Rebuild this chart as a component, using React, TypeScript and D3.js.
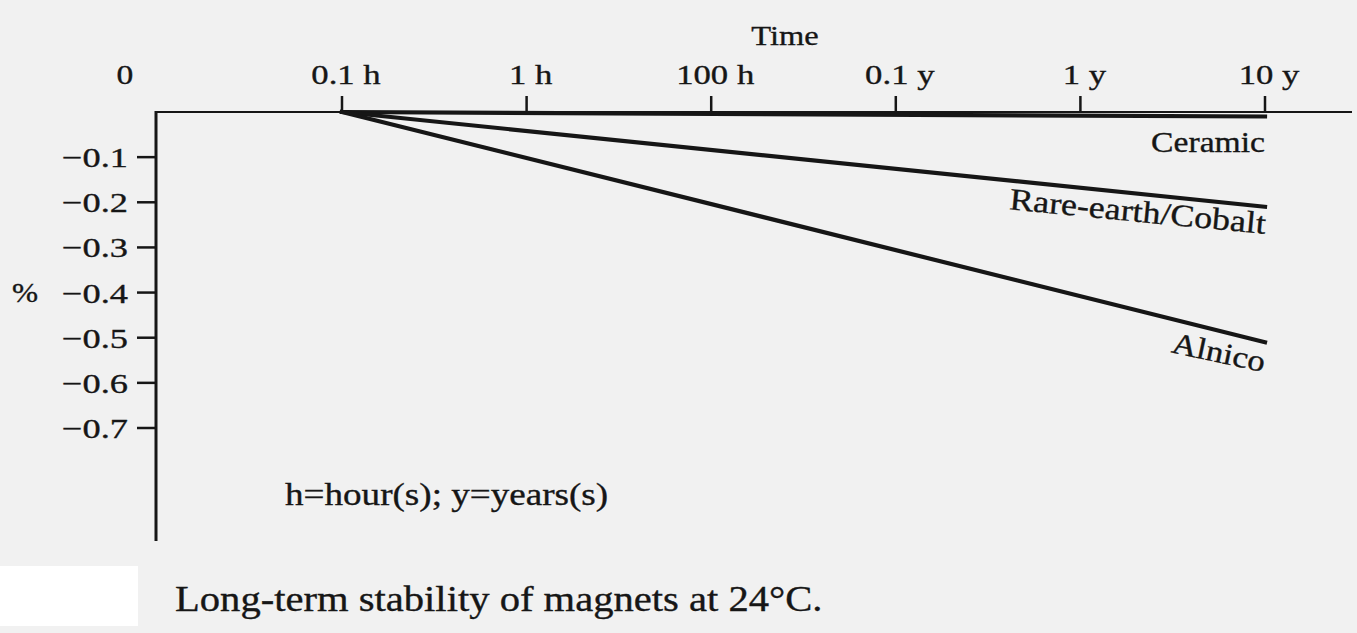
import { useEffect, useRef } from "react";
import * as d3 from "d3";

// Time axis labels (equally spaced, not a true log scale)
const timeTicks = ["0.1 h", "1 h", "100 h", "0.1 y", "1 y", "10 y"];
// Percentage ticks on the vertical axis
const percentTicks = [-0.1, -0.2, -0.3, -0.4, -0.5, -0.6, -0.7];

// Each magnet curve is a straight line from 0.1 h to 10 y
const lineTimes = ["0.1 h", "10 y"];
const ceramicLoss = [0, -0.01];
const rareEarthLoss = [0, -0.21];
const alnicoLoss = [0, -0.51];

const seriesNames = ["Ceramic", "Rare-earth/Cobalt", "Alnico"];
const seriesValues = [ceramicLoss, rareEarthLoss, alnicoLoss];

const W = 1357;
const H = 633;
const FONT = "'Liberation Serif', 'Times New Roman', serif";
const INK = "#161616";

export default function App() {
  const svgRef = useRef<SVGSVGElement>(null);

  useEffect(() => {
    document.body.style.margin = "0";
    if (!svgRef.current) return;
    const svg = d3.select(svgRef.current);
    svg.selectAll("*").remove();

    const x = d3.scalePoint<string>().domain(timeTicks).range([342, 1265]);
    const y = d3.scaleLinear().domain([0, -0.7]).range([112, 428]);
    const x0 = 156;
    const y0 = y(0);

    // paper background
    svg.append("rect").attr("width", W).attr("height", H).attr("fill", "#f1f1f1");
    svg.append("rect").attr("x", 0).attr("y", 566).attr("width", 138).attr("height", 60).attr("fill", "#ffffff");

    // the scan is stretched a little horizontally, so glyphs get a scale(sx,1)
    const label = (
      txt: string,
      tx: number,
      ty: number,
      size: number,
      anchor = "start",
      rot = 0,
      sx = 1.16
    ) =>
      svg
        .append("text")
        .attr("transform", `translate(${tx},${ty}) rotate(${rot}) scale(${sx},1)`)
        .attr("text-anchor", anchor)
        .style("font-family", FONT)
        .style("font-size", `${size}px`)
        .style("fill", INK)
        .style("stroke", INK)
        .style("stroke-width", 0.35)
        .text(txt);

    // axes
    svg.append("line")
      .attr("x1", x0).attr("x2", 1352)
      .attr("y1", y0).attr("y2", y0)
      .attr("stroke", INK).attr("stroke-width", 2.2);
    svg.append("line")
      .attr("x1", x0).attr("x2", x0)
      .attr("y1", y0 - 1).attr("y2", 541)
      .attr("stroke", INK).attr("stroke-width", 3);

    // top ticks (pointing up)
    svg.selectAll(".xtick")
      .data(timeTicks)
      .enter()
      .append("line")
      .attr("x1", d => x(d) || 0).attr("x2", d => x(d) || 0)
      .attr("y1", y0 - 16).attr("y2", y0)
      .attr("stroke", INK).attr("stroke-width", 2.5);

    timeTicks.forEach(t => label(t, (x(t) || 0) + 4, 84, 28, "middle", 0, 1.24));
    label("0", 125, 84, 28, "middle", 0, 1.2);
    label("Time", 785, 45, 28, "middle");

    // left ticks
    svg.selectAll(".ytick")
      .data(percentTicks)
      .enter()
      .append("line")
      .attr("x1", x0 - 19).attr("x2", x0)
      .attr("y1", d => y(d)).attr("y2", d => y(d))
      .attr("stroke", INK).attr("stroke-width", 2.5);

    percentTicks.forEach(v =>
      label(`\u2212${Math.abs(v).toFixed(1)}`, 128, y(v) + 10, 28, "end", 0, 1.3)
    );
    label("%", 25, y(-0.4) + 9, 27, "middle");

    // magnet curves
    const line = d3.line<[string, number]>()
      .x(d => x(d[0]) || 0)
      .y(d => y(d[1]));

    seriesValues.forEach(vals => {
      const pts = lineTimes.map((t, i) => [t, vals[i]] as [string, number]);
      svg.append("path")
        .attr("d", line(pts))
        .attr("fill", "none")
        .attr("stroke", INK)
        .attr("stroke-width", 4.2)
        .attr("stroke-linecap", "square");
    });

    // series labels
    label(seriesNames[0], 1265, 152, 29, "end");
    label(seriesNames[1], 1265, 234, 31, "end", 5.5);
    label(seriesNames[2], 1263, 372, 30, "end", 12);

    label("h=hour(s); y=years(s)", 285, 505, 32, "start");
    label("Long-term stability of magnets at 24\u00b0C.", 175, 611, 35, "start");
  }, []);

  return <svg ref={svgRef} width={W} height={H} style={{ display: "block" }} />;
}
